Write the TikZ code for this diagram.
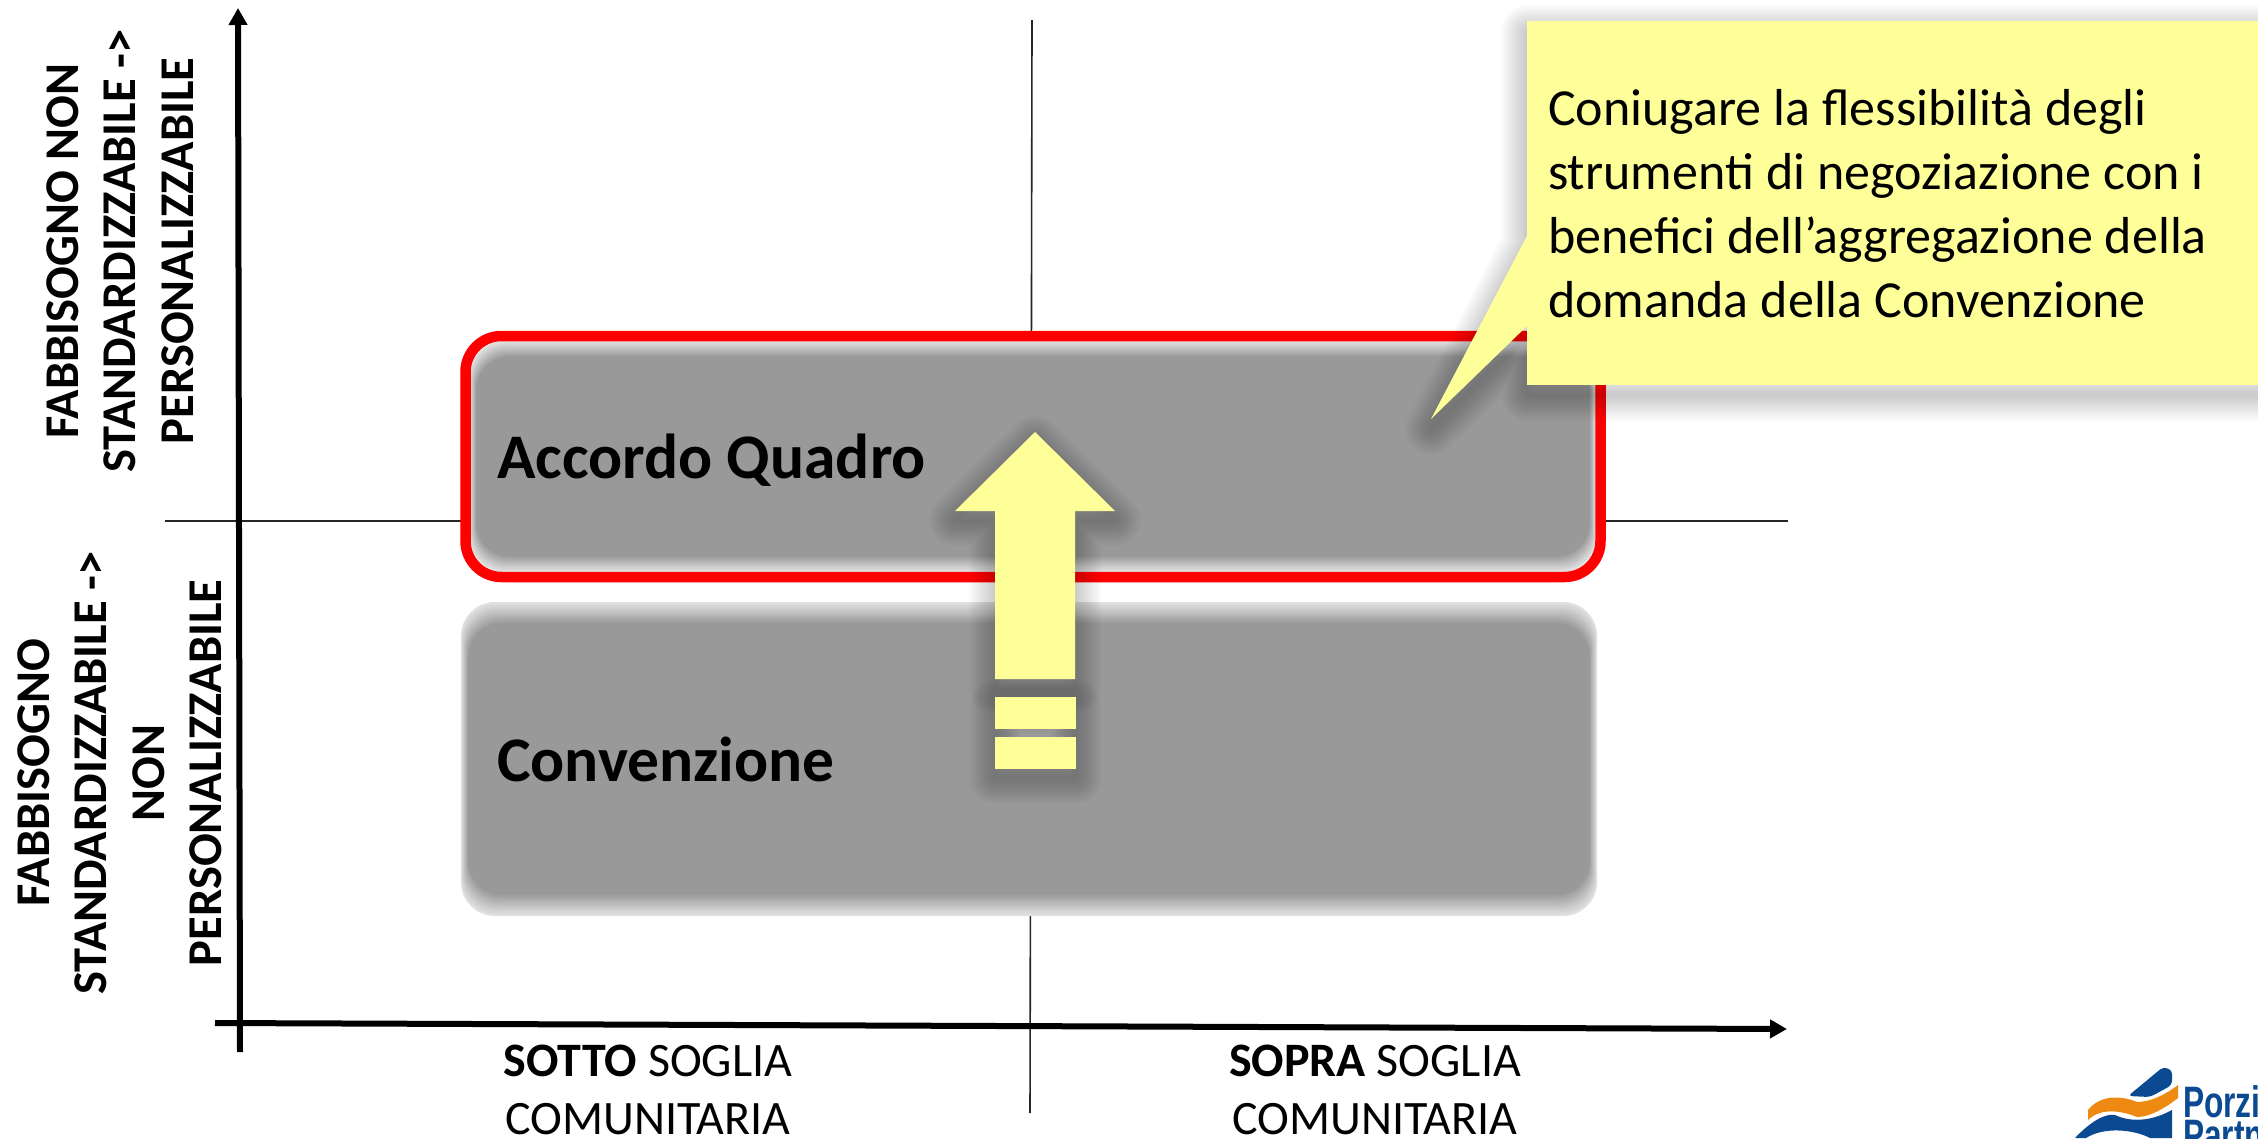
\documentclass[tikz,border=0pt]{standalone}
\usepackage{fontspec}
\setmainfont{Carlito}
\newfontfamily\logofont{Liberation Sans}
\usepackage{tikz}
\usetikzlibrary{arrows.meta,calc}

\definecolor{boxgrey}{HTML}{999999}
\definecolor{notecolor}{HTML}{FFFF99}
\definecolor{logoblue}{HTML}{0B4A92}
\definecolor{logoorange}{HTML}{EE8A12}

\newcommand{\softshadow}[2]{%
  \foreach \w in {4,8,...,52} {
    \draw[black, opacity=#2, line width=\w pt, line join=round] #1;
  }%
}

\begin{document}
\begin{tikzpicture}[
    x=1pt, y=-1pt,
    axis/.style={line width=6pt, -{Triangle[width=18pt,length=17pt]}},
    thinline/.style={line width=1.6pt, draw=black!85},
    softlayer/.style={rectangle, inner sep=0pt, rounded corners=34pt},
    redframe/.style={rectangle, draw=red, line width=10.5pt, inner sep=0pt, rounded corners=36pt, minimum width=1135pt, minimum height=241pt},
    boxlabel/.style={anchor=base west, inner sep=0pt, font=\fontsize{63.5}{66}\selectfont\bfseries},
    sidelabel/.style={rotate=90, align=center, font=\fontsize{48.5}{57.5}\selectfont\bfseries},
    bottomlabel/.style={align=center, font=\fontsize{48}{58}\selectfont},
    note/.style={rectangle, fill=notecolor, anchor=north west, inner xsep=21pt, inner ysep=0pt, text width=689pt, minimum height=364pt, align=left, font=\fontsize{52}{64}\selectfont},
    logotext/.style={anchor=base west, text=logoblue, xscale=0.72, transform shape, inner sep=0pt, font=\fontsize{44}{44}\selectfont\bfseries\logofont}
]
\useasboundingbox (0,0) rectangle (2258,1138);
\fill[white] (0,0) rectangle (2258,1138);

% Quadrant lines
\coordinate (vtop) at (1032,20);
\coordinate (vbot) at (1030,1113);
\coordinate (hleft) at (165,521);
\coordinate (hright) at (1788,521);
\draw[thinline] (vtop) -- (vbot);
\draw[thinline] (hleft) -- (hright);

% Axes
\coordinate (ystart) at (240,1052);
\coordinate (yend) at (238,8);
\coordinate (xstart) at (215,1023);
\coordinate (xend) at (1787,1029);
\draw[axis] (ystart) -- (yend);
\draw[axis] (xstart) -- (xend);

% Grey boxes
\foreach \i in {0,...,9} {
    \pgfmathsetmacro\shade{30+70*\i/9}
    \node[softlayer, fill=boxgrey!\shade!white, minimum width={1136pt-1.6pt*\i}, minimum height={314pt-4.6pt*\i}] (conv\i) at (1029,759) {};
    \node[softlayer, fill=boxgrey!\shade!white, minimum width={1126pt-1.4pt*\i}, minimum height={231pt-3.4pt*\i}] (acc\i) at (1033,456.5) {};
}
\node[redframe] (accframe) at (1033,456.5) {};

\node[boxlabel] (accordo) at (497,478) {Accordo Quadro};
\node[boxlabel] (convenzione) at (497,781) {Convenzione};

% Axis labels
\node[sidelabel] (ylabeltop) at (120,251) {FABBISOGNO NON\\STANDARDIZZABILE ->\\PERSONALIZZABILE};
\node[sidelabel] (ylabelbot) at (120,773) {FABBISOGNO\\STANDARDIZZABILE ->\\NON\\PERSONALIZZABILE};
\node[bottomlabel] (xlabelleft) at (648,1090) {\textbf{SOTTO} SOGLIA\\COMUNITARIA};
\node[bottomlabel] (xlabelright) at (1375,1090) {\textbf{SOPRA} SOGLIA\\COMUNITARIA};

% Big arrow and its two dashes
\softshadow{(1035,441) -- (1115,520) -- (1075,520) -- (1075,688) -- (995,688) -- (995,520) -- (955,520) -- cycle}{0.017}
\softshadow{(995,706) rectangle (1076,778)}{0.017}
\fill[notecolor] (1035,432) -- (1115,511) -- (1075,511) -- (1075,679) -- (995,679) -- (995,511) -- (955,511) -- cycle;
\fill[notecolor] (995,697) rectangle (1076,729);
\fill[notecolor] (995,737) rectangle (1076,769);

% Callout
\softshadow{(1527,31) -- (2300,31) -- (2300,395) -- (1527,395) -- (1527,335) -- (1431,429) -- (1527,244) -- cycle}{0.015}
\node[note] (callout) at (1527,21) {\spaceskip=12pt Coniugare la flessibilità degli\\strumenti di negoziazione con i\\benefici dell’aggregazione della\\domanda della Convenzione};
\coordinate (tailtop) at (1528,234);
\coordinate (tailbot) at (1528,325);
\coordinate (tailtip) at (1431,419);
\fill[notecolor] (tailtop) -- (tailtip) -- (tailbot) -- cycle;

% Logo
\fill[logoblue, rounded corners=4pt] (2128,1096) -- (2163,1067) -- (2172,1070) -- (2172,1085) -- (2150,1097) -- cycle;
\fill[logoorange] (2088,1110) .. controls (2100,1095) and (2120,1095) .. (2137,1102) .. controls (2150,1102) and (2165,1095) .. (2178,1085) -- (2178,1098) .. controls (2165,1108) and (2150,1117) .. (2137,1117) .. controls (2120,1110) and (2100,1108) .. (2088,1120) -- cycle;
\fill[logoblue] (2075,1138) .. controls (2090,1122) and (2105,1113) .. (2115,1115) .. controls (2130,1122) and (2150,1122) .. (2172,1110) -- (2172,1138) -- (2150,1138) .. controls (2135,1130) and (2105,1126) .. (2086,1138) -- cycle;
\node[logotext] (logoone) at (2183,1117) {Porzi};
\node[logotext] (logotwo) at (2183,1150) {Partn};
\end{tikzpicture}
\end{document}
